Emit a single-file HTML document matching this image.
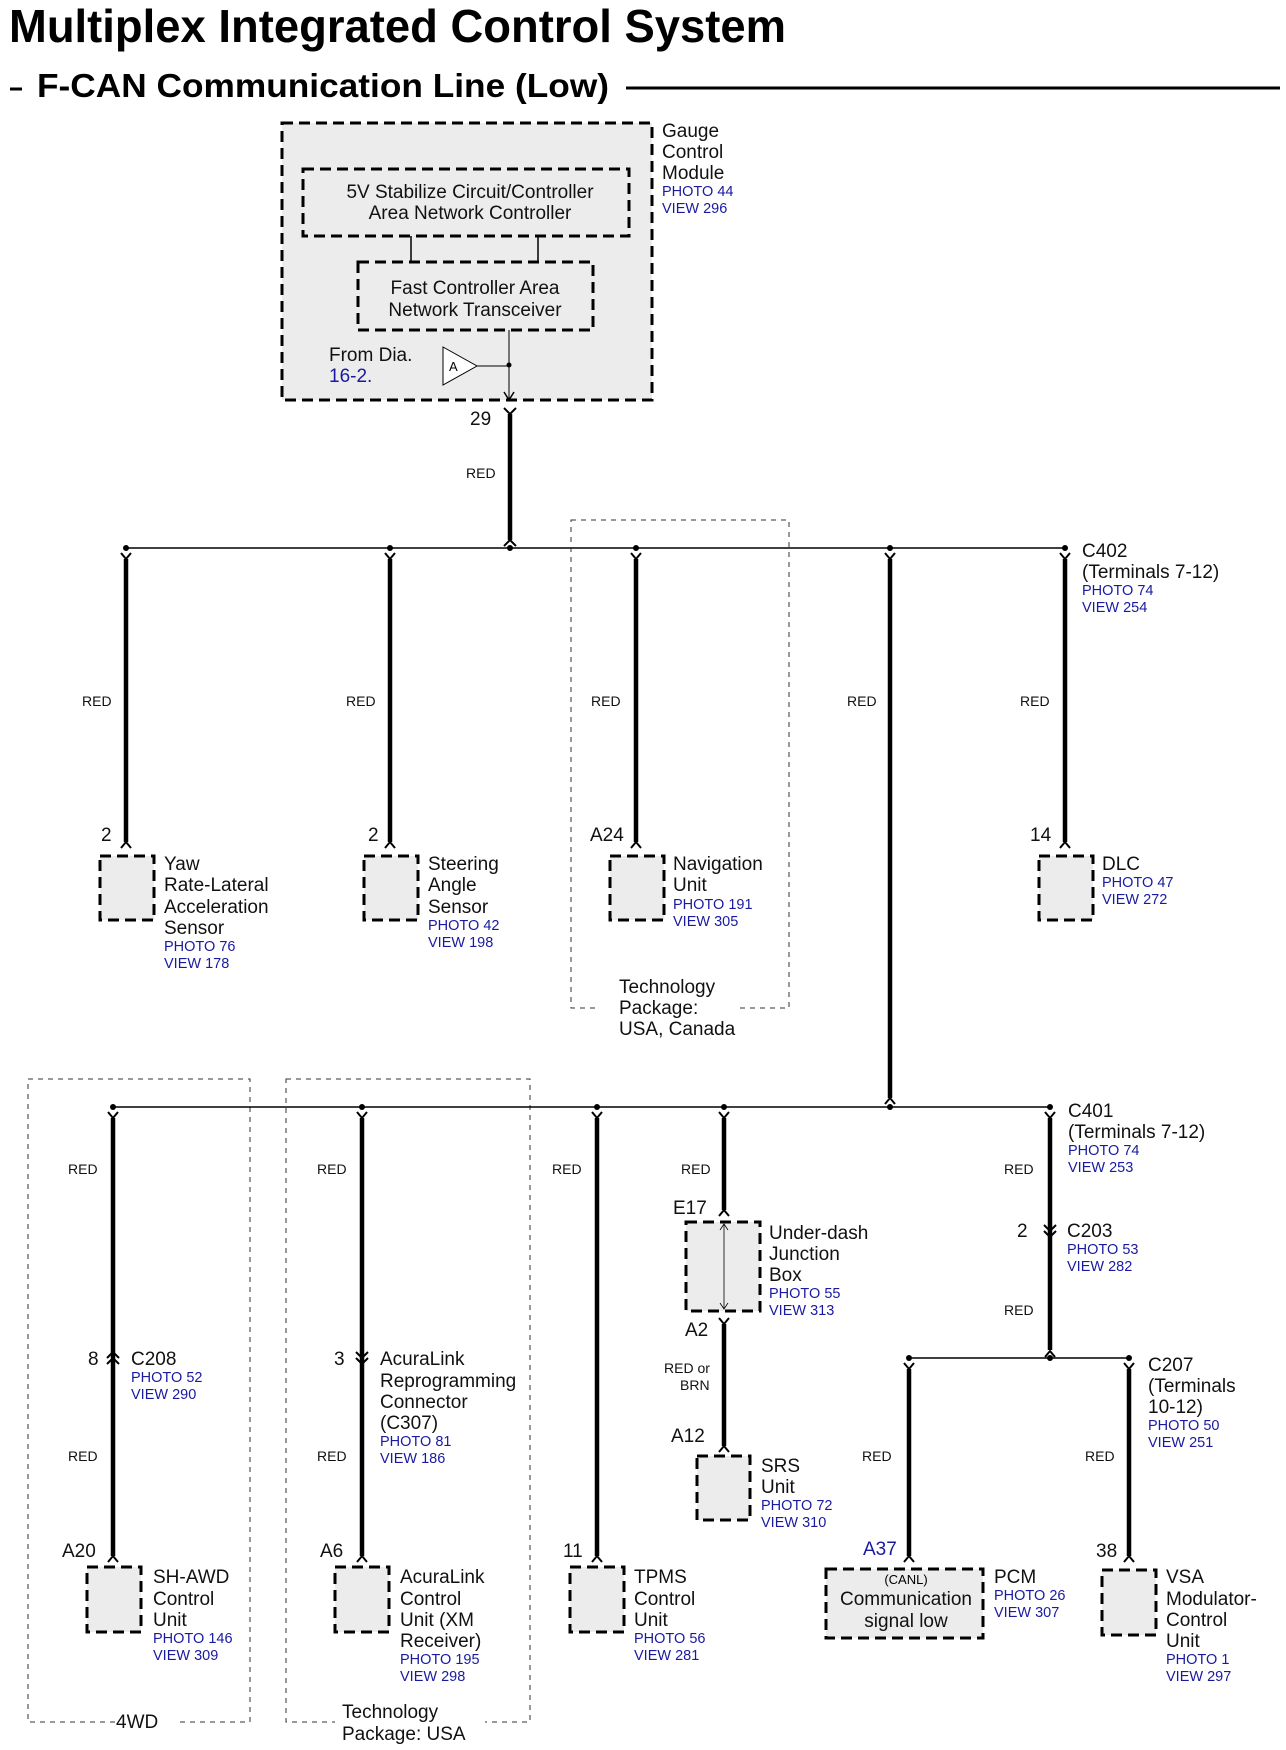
<!DOCTYPE html>
<html><head><meta charset="utf-8"><style>
html,body{margin:0;padding:0;background:#fff;}
svg{display:block;font-family:"Liberation Sans",sans-serif;}
.t{font-size:19px;fill:#111;}
.b{font-size:14.5px;fill:#1a1aa0;}
.r{font-size:14px;fill:#111;}
.w{stroke:#000;stroke-width:4.5;fill:none;}
.n{stroke:#000;stroke-width:1.5;fill:none;}
.c{stroke:#000;stroke-width:2;fill:none;}
.bx{fill:#ececec;stroke:#000;stroke-width:3;stroke-dasharray:11 6;}
.pk{fill:none;stroke:#333;stroke-width:1;stroke-dasharray:5 5;}
</style></head><body>
<svg width="1286" height="1750" viewBox="0 0 1286 1750" xmlns="http://www.w3.org/2000/svg">
<text x="9" y="42" font-size="46" font-weight="bold" textLength="777" lengthAdjust="spacingAndGlyphs">Multiplex Integrated Control System</text>
<line x1="10" y1="89" x2="22" y2="89" stroke="#000" stroke-width="3"/>
<text x="37" y="97" font-size="33" font-weight="bold" textLength="572" lengthAdjust="spacingAndGlyphs">F-CAN Communication Line (Low)</text>
<line x1="626" y1="88" x2="1280" y2="88" stroke="#000" stroke-width="3"/>

<!-- Gauge module -->
<rect x="282" y="123" width="370" height="277" class="bx"/>
<rect x="303" y="169" width="326" height="67" class="bx"/>
<text x="470" y="198" class="t" text-anchor="middle">5V Stabilize Circuit/Controller</text>
<text x="470" y="219" class="t" text-anchor="middle">Area Network Controller</text>
<line x1="411" y1="236" x2="411" y2="262" class="n"/>
<line x1="538" y1="236" x2="538" y2="262" class="n"/>
<rect x="358" y="262" width="235" height="68" class="bx"/>
<text x="475" y="294" class="t" text-anchor="middle">Fast Controller Area</text>
<text x="475" y="316" class="t" text-anchor="middle">Network Transceiver</text>
<line x1="509" y1="330" x2="509" y2="400" stroke="#000" stroke-width="1"/>
<path d="M504,392 L509,400 L514,392" class="n"/>
<circle cx="509" cy="365" r="2.5"/>
<polygon points="443,347 477,366 443,385" fill="#fff" stroke="#000" stroke-width="1"/>
<text x="449" y="371" font-size="13">A</text>
<line x1="477" y1="366" x2="509" y2="366" stroke="#000" stroke-width="1"/>
<text x="329" y="361" class="t">From Dia.</text>
<text x="329" y="382" class="t" fill="#1a1aa0" style="fill:#1a1aa0">16-2.</text>
<text x="662" y="137" class="t">Gauge</text>
<text x="662" y="158" class="t">Control</text>
<text x="662" y="179" class="t">Module</text>
<text x="662" y="196" class="b">PHOTO 44</text>
<text x="662" y="213" class="b">VIEW 296</text>

<!-- 29 -->
<text x="470" y="425" class="t">29</text>
<path d="M504,408 L510,414 L516,408" class="c"/>
<line x1="510" y1="414" x2="510" y2="540" class="w"/>
<path d="M504,546 L510,540 L516,546" class="c"/>
<text x="466" y="478" class="r">RED</text>

<!-- Bus 1 -->
<line x1="126" y1="548" x2="1065" y2="548" class="n"/>
<rect x="571" y="520" width="218" height="488" class="pk"/>
<rect x="600" y="998" width="140" height="20" fill="#fff"/>
<g fill="#000">
<circle cx="126" cy="548" r="3"/><circle cx="390" cy="548" r="3"/><circle cx="510" cy="548" r="3"/><circle cx="636" cy="548" r="3"/><circle cx="890" cy="548" r="3"/><circle cx="1065" cy="548" r="3"/>
</g>
<g>
<path d="M121,553 L126,559 L131,553" class="c"/><line x1="126" y1="559" x2="126" y2="842" class="w"/><path d="M121,848 L126,842 L131,848" class="c"/>
<path d="M385,553 L390,559 L395,553" class="c"/><line x1="390" y1="559" x2="390" y2="842" class="w"/><path d="M385,848 L390,842 L395,848" class="c"/>
<path d="M631,553 L636,559 L641,553" class="c"/><line x1="636" y1="559" x2="636" y2="842" class="w"/><path d="M631,848 L636,842 L641,848" class="c"/>
<path d="M1060,553 L1065,559 L1070,553" class="c"/><line x1="1065" y1="559" x2="1065" y2="842" class="w"/><path d="M1060,848 L1065,842 L1070,848" class="c"/>
<path d="M885,553 L890,559 L895,553" class="c"/><line x1="890" y1="559" x2="890" y2="1098" class="w"/><path d="M885,1104 L890,1098 L895,1104" class="c"/>
</g>
<text x="82" y="706" class="r">RED</text>
<text x="346" y="706" class="r">RED</text>
<text x="591" y="706" class="r">RED</text>
<text x="847" y="706" class="r">RED</text>
<text x="1020" y="706" class="r">RED</text>
<text x="1082" y="557" class="t">C402</text>
<text x="1082" y="578" class="t">(Terminals 7-12)</text>
<text x="1082" y="595" class="b">PHOTO 74</text>
<text x="1082" y="612" class="b">VIEW 254</text>

<text x="101" y="841" class="t">2</text>
<text x="368" y="841" class="t">2</text>
<text x="590" y="841" class="t">A24</text>
<text x="1030" y="841" class="t">14</text>
<rect x="100" y="856" width="54" height="64" class="bx"/>
<rect x="364" y="856" width="54" height="64" class="bx"/>
<rect x="610" y="856" width="54" height="64" class="bx"/>
<rect x="1039" y="856" width="54" height="64" class="bx"/>
<text x="164" y="870" class="t">Yaw</text><text x="164" y="891" class="t">Rate-Lateral</text><text x="164" y="913" class="t">Acceleration</text><text x="164" y="934" class="t">Sensor</text>
<text x="164" y="951" class="b">PHOTO 76</text><text x="164" y="968" class="b">VIEW 178</text>
<text x="428" y="870" class="t">Steering</text><text x="428" y="891" class="t">Angle</text><text x="428" y="913" class="t">Sensor</text>
<text x="428" y="930" class="b">PHOTO 42</text><text x="428" y="947" class="b">VIEW 198</text>
<text x="673" y="870" class="t">Navigation</text><text x="673" y="891" class="t">Unit</text>
<text x="673" y="909" class="b">PHOTO 191</text><text x="673" y="926" class="b">VIEW 305</text>
<text x="1102" y="870" class="t">DLC</text>
<text x="1102" y="887" class="b">PHOTO 47</text><text x="1102" y="904" class="b">VIEW 272</text>
<text x="619" y="993" class="t">Technology</text><text x="619" y="1014" class="t">Package:</text><text x="619" y="1035" class="t">USA, Canada</text>

<!-- Bus 2 -->
<rect x="28" y="1079" width="222" height="643" class="pk"/>
<rect x="286" y="1079" width="244" height="643" class="pk"/>
<rect x="120" y="1712" width="60" height="20" fill="#fff"/>
<rect x="335" y="1700" width="150" height="45" fill="#fff"/>
<text x="116" y="1728" class="t">4WD</text>
<text x="342" y="1718" class="t">Technology</text><text x="342" y="1740" class="t">Package: USA</text>
<line x1="113" y1="1107" x2="1050" y2="1107" class="n"/>
<g fill="#000">
<circle cx="113" cy="1107" r="3"/><circle cx="362" cy="1107" r="3"/><circle cx="597" cy="1107" r="3"/><circle cx="724" cy="1107" r="3"/><circle cx="890" cy="1107" r="3"/><circle cx="1050" cy="1107" r="3"/>
</g>
<text x="68" y="1174" class="r">RED</text>
<text x="317" y="1174" class="r">RED</text>
<text x="552" y="1174" class="r">RED</text>
<text x="681" y="1174" class="r">RED</text>
<text x="1004" y="1174" class="r">RED</text>

<!-- SH-AWD -->
<path d="M108,1112 L113,1118 L118,1112" class="c"/>
<line x1="113" y1="1118" x2="113" y2="1556" class="w"/>
<path d="M107,1358 L113,1352 L119,1358 M107,1364 L113,1358 L119,1364" stroke="#000" stroke-width="2" fill="none"/>
<path d="M108,1562 L113,1556 L118,1562" class="c"/>
<text x="88" y="1365" class="t">8</text>
<text x="131" y="1365" class="t">C208</text>
<text x="131" y="1382" class="b">PHOTO 52</text><text x="131" y="1399" class="b">VIEW 290</text>
<text x="68" y="1461" class="r">RED</text>
<text x="62" y="1557" class="t">A20</text>
<rect x="87" y="1567" width="54" height="65" class="bx"/>
<text x="153" y="1583" class="t">SH-AWD</text><text x="153" y="1605" class="t">Control</text><text x="153" y="1626" class="t">Unit</text>
<text x="153" y="1643" class="b">PHOTO 146</text><text x="153" y="1660" class="b">VIEW 309</text>

<!-- AcuraLink -->
<path d="M357,1112 L362,1118 L367,1112" class="c"/>
<line x1="362" y1="1118" x2="362" y2="1556" class="w"/>
<path d="M356,1352 L362,1358 L368,1352 M356,1358 L362,1364 L368,1358" stroke="#000" stroke-width="2" fill="none"/>
<path d="M357,1562 L362,1556 L367,1562" class="c"/>
<text x="334" y="1365" class="t">3</text>
<text x="380" y="1365" class="t">AcuraLink</text><text x="380" y="1387" class="t">Reprogramming</text><text x="380" y="1408" class="t">Connector</text><text x="380" y="1429" class="t">(C307)</text>
<text x="380" y="1446" class="b">PHOTO 81</text><text x="380" y="1463" class="b">VIEW 186</text>
<text x="317" y="1461" class="r">RED</text>
<text x="320" y="1557" class="t">A6</text>
<rect x="335" y="1567" width="54" height="65" class="bx"/>
<text x="400" y="1583" class="t">AcuraLink</text><text x="400" y="1605" class="t">Control</text><text x="400" y="1626" class="t">Unit (XM</text><text x="400" y="1647" class="t">Receiver)</text>
<text x="400" y="1664" class="b">PHOTO 195</text><text x="400" y="1681" class="b">VIEW 298</text>

<!-- TPMS -->
<path d="M592,1112 L597,1118 L602,1112" class="c"/>
<line x1="597" y1="1118" x2="597" y2="1556" class="w"/>
<path d="M592,1562 L597,1556 L602,1562" class="c"/>
<text x="563" y="1557" class="t">11</text>
<rect x="570" y="1567" width="54" height="65" class="bx"/>
<text x="634" y="1583" class="t">TPMS</text><text x="634" y="1605" class="t">Control</text><text x="634" y="1626" class="t">Unit</text>
<text x="634" y="1643" class="b">PHOTO 56</text><text x="634" y="1660" class="b">VIEW 281</text>

<!-- Under-dash -->
<path d="M719,1112 L724,1118 L729,1112" class="c"/>
<line x1="724" y1="1118" x2="724" y2="1210" class="w"/>
<path d="M719,1216 L724,1210 L729,1216" class="c"/>
<text x="673" y="1214" class="t">E17</text>
<rect x="686" y="1222" width="74" height="89" class="bx"/>
<line x1="724" y1="1224" x2="724" y2="1309" stroke="#000" stroke-width="0.8"/>
<path d="M720,1230 L724,1224 L728,1230 M720,1303 L724,1309 L728,1303" stroke="#000" stroke-width="0.8" fill="none"/>
<text x="769" y="1239" class="t">Under-dash</text><text x="769" y="1260" class="t">Junction</text><text x="769" y="1281" class="t">Box</text>
<text x="769" y="1298" class="b">PHOTO 55</text><text x="769" y="1315" class="b">VIEW 313</text>
<path d="M719,1318 L724,1324 L729,1318" class="c"/>
<line x1="724" y1="1324" x2="724" y2="1446" class="w"/>
<path d="M719,1452 L724,1446 L729,1452" class="c"/>
<text x="685" y="1336" class="t">A2</text>
<text x="664" y="1373" class="r">RED or</text><text x="680" y="1390" class="r">BRN</text>
<text x="671" y="1442" class="t">A12</text>
<rect x="697" y="1456" width="53" height="64" class="bx"/>
<text x="761" y="1472" class="t">SRS</text><text x="761" y="1493" class="t">Unit</text>
<text x="761" y="1510" class="b">PHOTO 72</text><text x="761" y="1527" class="b">VIEW 310</text>

<!-- Right branch -->
<path d="M1045,1112 L1050,1118 L1055,1112" class="c"/>
<line x1="1050" y1="1118" x2="1050" y2="1350" class="w"/>
<path d="M1044,1225 L1050,1231 L1056,1225 M1044,1231 L1050,1237 L1056,1231" stroke="#000" stroke-width="2" fill="none"/>
<path d="M1045,1357 L1050,1351 L1055,1357" class="c"/>
<text x="1068" y="1117" class="t">C401</text><text x="1068" y="1138" class="t">(Terminals 7-12)</text>
<text x="1068" y="1155" class="b">PHOTO 74</text><text x="1068" y="1172" class="b">VIEW 253</text>
<text x="1017" y="1237" class="t">2</text>
<text x="1067" y="1237" class="t">C203</text>
<text x="1067" y="1254" class="b">PHOTO 53</text><text x="1067" y="1271" class="b">VIEW 282</text>
<text x="1004" y="1315" class="r">RED</text>

<line x1="909" y1="1358" x2="1129" y2="1358" class="n"/>
<g fill="#000"><circle cx="909" cy="1358" r="3"/><circle cx="1050" cy="1358" r="3"/><circle cx="1129" cy="1358" r="3"/></g>
<path d="M904,1363 L909,1369 L914,1363" class="c"/>
<line x1="909" y1="1369" x2="909" y2="1556" class="w"/>
<path d="M904,1562 L909,1556 L914,1562" class="c"/>
<path d="M1124,1363 L1129,1369 L1134,1363" class="c"/>
<line x1="1129" y1="1369" x2="1129" y2="1556" class="w"/>
<path d="M1124,1562 L1129,1556 L1134,1562" class="c"/>
<text x="862" y="1461" class="r">RED</text>
<text x="1085" y="1461" class="r">RED</text>
<text x="863" y="1555" class="t" style="fill:#1a1aa0">A37</text>
<rect x="826" y="1569" width="157" height="69" class="bx"/>
<text x="906" y="1584" font-size="13" text-anchor="middle">(CANL)</text>
<text x="906" y="1605" class="t" text-anchor="middle">Communication</text>
<text x="906" y="1627" class="t" text-anchor="middle">signal low</text>
<text x="994" y="1583" class="t">PCM</text>
<text x="994" y="1600" class="b">PHOTO 26</text><text x="994" y="1617" class="b">VIEW 307</text>
<text x="1148" y="1371" class="t">C207</text><text x="1148" y="1392" class="t">(Terminals</text><text x="1148" y="1413" class="t">10-12)</text>
<text x="1148" y="1430" class="b">PHOTO 50</text><text x="1148" y="1447" class="b">VIEW 251</text>
<text x="1096" y="1557" class="t">38</text>
<rect x="1102" y="1570" width="54" height="65" class="bx"/>
<text x="1166" y="1583" class="t">VSA</text><text x="1166" y="1605" class="t">Modulator-</text><text x="1166" y="1626" class="t">Control</text><text x="1166" y="1647" class="t">Unit</text>
<text x="1166" y="1664" class="b">PHOTO 1</text><text x="1166" y="1681" class="b">VIEW 297</text>
</svg>
</body></html>
